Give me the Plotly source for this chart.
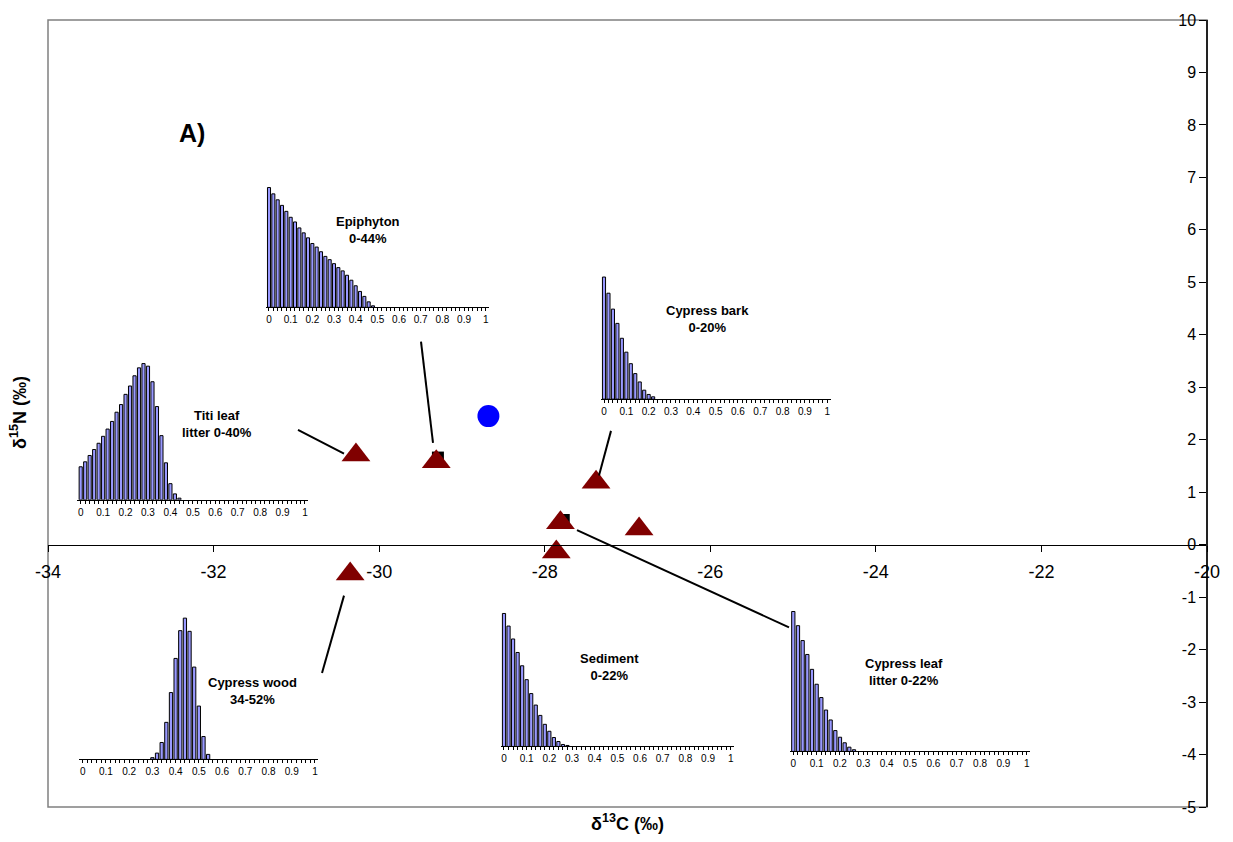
import plotly.graph_objects as go

# ---------------- data ----------------
# Main biplot: sources (d13C, d15N)
source_names = ["Titi leaf litter", "Epiphyton", "Cypress bark", "Cypress leaf litter",
                "Sediment", "Other source", "Cypress wood"]
source_d13c = [-30.28, -29.31, -27.38, -27.81, -27.86, -26.86, -30.35]
source_d15n = [1.71, 1.58, 1.19, 0.42, -0.14, 0.30, -0.56]

# Consumer (mixture)
consumer_d13c = [-28.68]
consumer_d15n = [2.45]

# Hidden black markers behind triangles
black_d13c = [-29.29, -27.77]
black_d15n = [1.66, 0.47]

x_ticks = [-34, -32, -30, -28, -26, -24, -22, -20]
y_ticks = list(range(-5, 11))

# Posterior proportion histograms (bin width 0.02, relative frequency)
bin_width = 0.02
titi_freq = [33.3, 38.3, 44.7, 50.7, 57, 64, 71.3, 79, 88.3, 96, 106.3, 114.7, 125, 133,
             137.3, 134.7, 119, 94, 64.7, 37.3, 16.3, 6, 1.7]
titi_start = 0.0
epiphyton_freq = [120.7, 114.3, 108.3, 102.7, 96.7, 90.7, 86, 80, 75, 70, 64.3, 60.7, 56,
                  51.3, 48, 44, 40, 36.7, 32.3, 27.3, 21.7, 16, 11, 5.5, 1.5]
epiphyton_start = 0.0
bark_freq = [123, 106.7, 90.7, 76.3, 61.3, 47.3, 35.7, 25.7, 17.3, 9, 4.7, 2.3]
bark_start = 0.0
wood_freq = [1.7, 6.3, 17, 37.3, 67.3, 101.7, 129.7, 142.3, 129, 93, 53.7, 23, 5]
wood_start = 0.30
sediment_freq = [134, 121.3, 108.3, 94.7, 81.3, 67.3, 53.3, 41.7, 31.3, 22.3, 15.3, 9, 5, 2, 1]
sediment_start = 0.0
leaf_freq = [141, 126.7, 111.7, 97.7, 82.7, 67.7, 54.3, 41.7, 31.7, 21, 14.3, 8.7, 4.3, 1.7]
leaf_start = 0.0

hist_tick_vals = [0, 0.1, 0.2, 0.3, 0.4, 0.5, 0.6, 0.7, 0.8, 0.9, 1]
hist_tick_text = ["0", "0.1", "0.2", "0.3", "0.4", "0.5", "0.6", "0.7", "0.8", "0.9", "1"]

hist_labels = ["Titi leaf<br>litter 0-40%", "Epiphyton<br>0-44%", "Cypress bark<br>0-20%",
               "Cypress wood<br>34-52%", "Sediment<br>0-22%", "Cypress leaf<br>litter 0-22%"]

# ---------------- layout geometry (pixels) ----------------
W, H = 1233, 842
L, R, T, B = 48, 1207, 14, 807
FONT = "Liberation Sans, Arial, sans-serif"


def fx(px):
    return (px - L) / (R - L)


def fy(py):
    return (B - py) / (B - T)


# inset placement: (x of "0", x of "1", baseline y), label centre
insets = [
    (titi_freq, titi_start, (80.7, 305.0, 497.5), (217, 421)),
    (epiphyton_freq, epiphyton_start, (269.0, 485.7, 303.5), (368, 226)),
    (bark_freq, bark_start, (604.0, 827.3, 396.0), (707, 315)),
    (wood_freq, wood_start, (82.7, 315.0, 759.0), (252, 690)),
    (sediment_freq, sediment_start, (504.0, 730.7, 746.0), (609, 666)),
    (leaf_freq, leaf_start, (793.3, 1026.7, 751.0), (904, 671)),
]
HIST_R = 150

fig = go.Figure()
layout_axes = {}
annotations = []

for i, (freq, start, (x0, x1, base), (lx, ly)) in enumerate(insets, start=2):
    xs = [round(start + k * bin_width, 2) for k in range(len(freq))]
    fig.add_trace(go.Bar(
        x=xs, y=freq, xaxis=f"x{i}", yaxis=f"y{i}", width=bin_width * 0.7,
        marker=dict(color="#9999FF", line=dict(color="black", width=1)),
        showlegend=False, hoverinfo="x+y"))
    a, b = -0.015, 1.015
    layout_axes[f"xaxis{i}"] = dict(
        domain=[fx(x0 + a * (x1 - x0)), fx(x0 + b * (x1 - x0))], range=[a, b],
        anchor=f"y{i}", showline=True, linecolor="black", linewidth=1,
        tickmode="array", tickvals=hist_tick_vals, ticktext=hist_tick_text,
        ticks="outside", ticklen=3, tickwidth=1, tickcolor="black",
        minor=dict(ticks="outside", ticklen=3, dtick=0.02, tick0=0, tickcolor="black",
                   tickwidth=1, showgrid=False),
        tickfont=dict(size=10, color="black", family=FONT),
        showgrid=False, zeroline=False, fixedrange=True)
    layout_axes[f"yaxis{i}"] = dict(
        domain=[fy(base), fy(base - HIST_R)], range=[0, HIST_R], anchor=f"x{i}",
        visible=False, fixedrange=True)
    annotations.append(dict(
        x=fx(lx), y=fy(ly), xref="paper", yref="paper", text=f"<b>{hist_labels[i-2]}</b>",
        showarrow=False, xanchor="center", yanchor="middle", align="center",
        font=dict(size=13, color="black", family=FONT)))

# main scatter
fig.add_trace(go.Scatter(
    x=black_d13c, y=black_d15n, mode="markers", xaxis="x", yaxis="y",
    marker=dict(symbol="square", size=12, color="black"), showlegend=False))
fig.add_trace(go.Scatter(
    x=source_d13c, y=source_d15n, mode="markers", xaxis="x", yaxis="y", text=source_names,
    marker=dict(symbol="triangle-up", size=25, color="#800000"), showlegend=False))
fig.add_trace(go.Scatter(
    x=consumer_d13c, y=consumer_d15n, mode="markers", xaxis="x", yaxis="y",
    marker=dict(symbol="circle", size=22, color="#0000FF"), showlegend=False))

# leader lines (pixel positions)
leaders = [((298, 427), (344, 451)), ((421, 338), (433, 440)), ((611, 428), (599, 473)),
           ((577, 528), (789, 626)), ((322, 672), (344, 594))]
shapes = [dict(type="rect", xref="paper", yref="paper", x0=0, y0=0, x1=1, y1=1,
               line=dict(color="#808080", width=1.5), layer="below")]
for (ax, ay), (bx, by) in leaders:
    shapes.append(dict(type="line", xref="paper", yref="paper", x0=fx(ax), y0=fy(ay),
                       x1=fx(bx), y1=fy(by), line=dict(color="black", width=2)))

annotations += [
    dict(x=fx(192), y=fy(128), xref="paper", yref="paper", text="<b>A)</b>", showarrow=False,
         xanchor="center", yanchor="middle",
         font=dict(size=25, color="black", family=FONT)),
    dict(x=fx(627), y=fy(823), xref="paper", yref="paper",
         text="<b>δ<sup>13</sup>C (‰)</b>", showarrow=False, xanchor="center", yanchor="middle",
         font=dict(size=18, color="black", family=FONT)),
    dict(x=fx(18), y=fy(410), xref="paper", yref="paper", textangle=-90,
         text="<b>δ<sup>15</sup>N (‰)</b>", showarrow=False, xanchor="center", yanchor="middle",
         font=dict(size=18, color="black", family=FONT)),
]

fig.update_layout(
    width=W, height=H, autosize=False,
    margin=dict(l=L, r=W - R, t=T, b=H - B, pad=0),
    paper_bgcolor="white", plot_bgcolor="white",
    showlegend=False,
    xaxis=dict(domain=[0, 1], range=[-34, -20], anchor="free", position=1 / 3,
               showline=True, linecolor="black", linewidth=1,
               tickmode="array", tickvals=x_ticks, ticktext=[str(v) for v in x_ticks],
               ticks="outside", ticklen=6,
               tickcolor="black", tickfont=dict(size=18, color="black", family=FONT),
               ticklabelstandoff=5, showgrid=False, zeroline=False),
    yaxis=dict(domain=[0, 1], range=[-5, 10], anchor="free", position=1, side="left",
               showline=True, linecolor="#222222", linewidth=1.5,
               tickmode="array", tickvals=y_ticks, ticktext=[str(v) for v in y_ticks],
               ticks="outside", ticklen=7,
               tickcolor="black", tickfont=dict(size=16, color="black", family=FONT),
               showgrid=False, zeroline=False),
    shapes=shapes,
    annotations=annotations,
)
fig.update_layout(**layout_axes)

fig.write_html("out.html")
